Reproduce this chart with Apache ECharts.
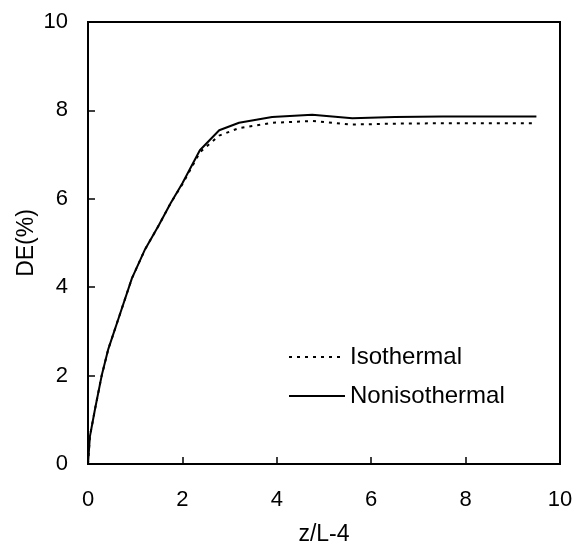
<!DOCTYPE html>
<html>
<head>
<meta charset="utf-8">
<script src="https://cdn.jsdelivr.net/npm/echarts@6/dist/echarts.min.js"></script>
<style>html,body{margin:0;padding:0;background:#fff;}#c{width:573px;height:542px;}</style>
</head>
<body>
<div id="c"></div>
<script>
var xTicks = [0, 2, 4, 6, 8, 10];
var yTicks = [0, 2, 4, 6, 8, 10];
var zL = [0, 0.04, 0.15, 0.29, 0.43, 0.68, 0.93, 1.21, 1.5, 1.75, 2.0, 2.37, 2.78, 3.2, 3.9, 4.75, 5.6, 6.5, 7.5, 8.5, 9.5];
var nonisothermal = [0, 0.62, 1.25, 2.0, 2.6, 3.4, 4.2, 4.86, 5.4, 5.9, 6.35, 7.1, 7.55, 7.72, 7.85, 7.9, 7.82, 7.85, 7.86, 7.86, 7.86];
var isothermal = [0, 0.62, 1.25, 2.0, 2.6, 3.4, 4.2, 4.86, 5.4, 5.9, 6.33, 7.05, 7.43, 7.6, 7.72, 7.76, 7.68, 7.7, 7.71, 7.71, 7.71];

function pairs(xs, ys) { return xs.map(function (x, i) { return [x, ys[i]]; }); }

var font = 'Liberation Sans, Arial, sans-serif';
var chart = echarts.init(document.getElementById('c'), null, { renderer: 'canvas' });
chart.setOption({
  backgroundColor: '#fff',
  animation: false,
  grid: { left: 88, right: 13, top: 22, bottom: 78, containLabel: false, outerBoundsMode: 'none',
    show: true, borderColor: '#000', borderWidth: 2, backgroundColor: 'transparent' },
  legend: {
    orient: 'vertical', left: 283, top: 340, itemWidth: 56, itemHeight: 12, itemGap: 15,
    itemStyle: { opacity: 0 },
    textStyle: { fontFamily: font, fontSize: 24, color: '#000' },
    data: ['Isothermal', 'Nonisothermal']
  },
  xAxis: {
    type: 'value', min: xTicks[0], max: xTicks[xTicks.length - 1], interval: 2,
    name: 'z/L-4', nameLocation: 'middle', nameGap: 59, nameMoveOverlap: false,
    nameTextStyle: { fontFamily: font, fontSize: 23, color: '#000' },
    axisLine: { show: true, lineStyle: { color: '#000', width: 2 } },
    axisTick: { show: true, inside: true, length: 7, lineStyle: { color: '#000', width: 1.5 } },
    axisLabel: { fontFamily: font, fontSize: 22, color: '#000', margin: 25 },
    splitLine: { show: false }
  },
  yAxis: {
    type: 'value', min: yTicks[0], max: yTicks[yTicks.length - 1], interval: 2,
    name: 'DE(%)', nameLocation: 'middle', nameGap: 50, nameMoveOverlap: false,
    nameTextStyle: { fontFamily: font, fontSize: 23, color: '#000' },
    axisLine: { show: true, lineStyle: { color: '#000', width: 2 } },
    axisTick: { show: true, inside: true, length: 7, lineStyle: { color: '#000', width: 1.5 } },
    axisLabel: { fontFamily: font, fontSize: 22, color: '#000', margin: 20 },
    splitLine: { show: false }
  },
  series: [
    { name: 'Isothermal', type: 'line', data: pairs(zL, isothermal), symbol: 'none', smooth: false,
      lineStyle: { color: '#000', width: 2, type: [3, 5] }, itemStyle: { color: '#000' } },
    { name: 'Nonisothermal', type: 'line', data: pairs(zL, nonisothermal), symbol: 'none', smooth: false,
      lineStyle: { color: '#000', width: 2, type: 'solid' }, itemStyle: { color: '#000' } }
  ]
});
</script>
</body>
</html>
